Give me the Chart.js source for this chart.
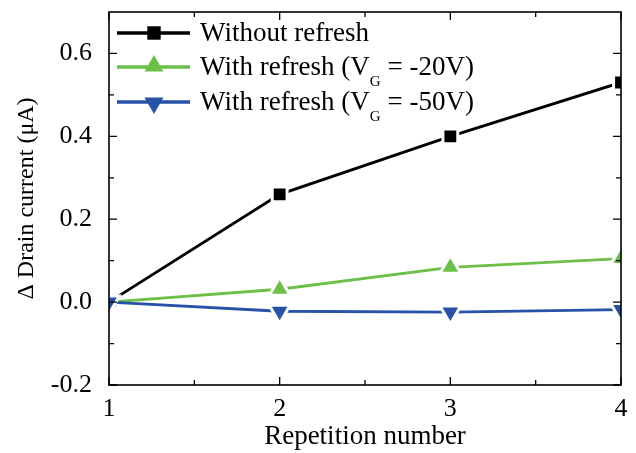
<!DOCTYPE html>
<html>
<head>
<meta charset="utf-8">
<script src="https://cdn.jsdelivr.net/npm/chart.js@4.4.1/dist/chart.umd.min.js"></script>
<style>
	html, body { margin: 0; padding: 0; background: #fff; }
	#wrap { width: 636px; height: 453px; }
</style>
</head>
<body>
<div id="wrap"><canvas id="chart"></canvas></div>
<script>
// data
const repetitions = [1, 2, 3, 4];
const withoutRefresh = [0, 0.26, 0.40, 0.53];
const refresh20 = [0, 0.031, 0.084, 0.105];
const refresh50 = [0, -0.022, -0.024, -0.018];
const seriesLabels = ['Without refresh', 'With refresh (V_G = -20V)', 'With refresh (V_G = -50V)'];
const xTicks = [1, 2, 3, 4];
const yTicks = [-0.2, 0.0, 0.2, 0.4, 0.6];
const xMinor = [1.5, 2.5, 3.5];
const yMinor = [-0.1, 0.1, 0.3, 0.5];

const FONT = "'Liberation Serif', 'Times New Roman', serif";
const COL = { black: '#000000', green: '#6cbf47', blue: '#2752a8' };

const pts = ys => ys.map((y, i) => ({ x: repetitions[i], y }));

function series(label, ys, color, style, rot, r, order) {
	return {
		label, data: pts(ys), borderColor: color, backgroundColor: color,
		borderWidth: 2.8, pointStyle: style, pointRotation: rot, pointRadius: r,
		pointBackgroundColor: color, pointBorderColor: '#ffffff', pointBorderWidth: 3,
		tension: 0, order
	};
}

// frame + inward ticks on all four sides
const frame = {
	id: 'frame',
	afterDatasetsDraw(chart) {
		const { ctx, chartArea: a, scales: { x, y } } = chart;
		ctx.save();
		ctx.strokeStyle = '#000';
		ctx.lineWidth = 1.6;
		ctx.strokeRect(a.left, a.top, a.right - a.left, a.bottom - a.top);
		ctx.lineWidth = 1.3;
		const tickX = (v, len) => {
			const px = x.getPixelForValue(v);
			ctx.beginPath();
			ctx.moveTo(px, a.bottom); ctx.lineTo(px, a.bottom - len);
			ctx.moveTo(px, a.top); ctx.lineTo(px, a.top + len);
			ctx.stroke();
		};
		const tickY = (v, len) => {
			const py = y.getPixelForValue(v);
			ctx.beginPath();
			ctx.moveTo(a.left, py); ctx.lineTo(a.left + len, py);
			ctx.moveTo(a.right, py); ctx.lineTo(a.right - len, py);
			ctx.stroke();
		};
		xTicks.forEach(v => tickX(v, 8));
		xMinor.forEach(v => tickX(v, 5));
		yTicks.forEach(v => tickY(v, 8));
		yMinor.forEach(v => tickY(v, 5));
		ctx.restore();
	}
};

// legend inside the plot, with subscript G
const legendBox = {
	id: 'legendBox',
	afterDraw(chart) {
		const ctx = chart.ctx;
		const rowsY = [33, 67, 102];
		ctx.save();
		chart.data.datasets.forEach((ds, i) => {
			const yy = rowsY[i];
			ctx.strokeStyle = ds.borderColor;
			ctx.lineWidth = 3.4;
			ctx.beginPath();
			ctx.moveTo(117, yy); ctx.lineTo(190, yy);
			ctx.stroke();
			ctx.fillStyle = ds.borderColor;
			Chart.helpers.drawPoint(ctx, {
				pointStyle: ds.pointStyle, rotation: ds.pointRotation,
				radius: ds.pointStyle === 'rect' ? 9.5 : 11, borderWidth: 0
			}, 154, ds.pointStyle === 'rect' ? yy : yy + (ds.pointRotation ? 1 : -1));
			ctx.fillStyle = '#000';
			ctx.textBaseline = 'alphabetic';
			ctx.textAlign = 'left';
			const parts = ds.label.split('_G');
			let tx = 200;
			ctx.font = `27px ${FONT}`;
			ctx.fillText(parts[0], tx, yy + 8);
			tx += ctx.measureText(parts[0]).width;
			if (parts.length > 1) {
				ctx.font = `15px ${FONT}`;
				ctx.fillText('G', tx, yy + 19);
				tx += ctx.measureText('G').width;
				ctx.font = `27px ${FONT}`;
				ctx.fillText(parts[1], tx, yy + 8);
			}
		});
		ctx.restore();
	}
};

new Chart(document.getElementById('chart'), {
	type: 'line',
	data: {
		datasets: [
			series(seriesLabels[0], withoutRefresh, COL.black, 'rect', 0, 10.5, 2),
			series(seriesLabels[1], refresh20, COL.green, 'triangle', 0, 12, 1),
			series(seriesLabels[2], refresh50, COL.blue, 'triangle', 180, 12, 0)
		]
	},
	options: {
		responsive: true,
		maintainAspectRatio: false,
		animation: false,
		layout: { autoPadding: false, padding: { top: 12, right: 15, left: 0, bottom: 0 } },
		plugins: { legend: { display: false }, tooltip: { enabled: false } },
		scales: {
			x: {
				type: 'linear', min: 1, max: 4,
				afterBuildTicks: s => { s.ticks = xTicks.map(v => ({ value: v })); },
				afterFit: s => { s.height = 68; s.paddingLeft = 0; s.paddingRight = 0; },
				grid: { display: false }, border: { display: false },
				ticks: { color: '#000', padding: 1, font: { family: FONT, size: 26 }, callback: v => String(v) },
				title: { display: true, text: 'Repetition number', color: '#000', padding: { top: 0, bottom: 0 }, font: { family: FONT, size: 27 } }
			},
			y: {
				min: -0.2, max: 0.7,
				afterBuildTicks: s => { s.ticks = yTicks.map(v => ({ value: v })); },
				afterFit: s => { s.width = 109; s.paddingTop = 0; s.paddingBottom = 0; },
				grid: { display: false }, border: { display: false },
				ticks: { color: '#000', padding: 9, font: { family: FONT, size: 26 }, callback: v => v.toFixed(1) },
				title: { display: true, text: 'Δ Drain current (μA)', color: '#000', padding: { top: 12, bottom: 0 }, font: { family: FONT, size: 24 } }
			}
		}
	},
	plugins: [frame, legendBox]
});
</script>
</body>
</html>
